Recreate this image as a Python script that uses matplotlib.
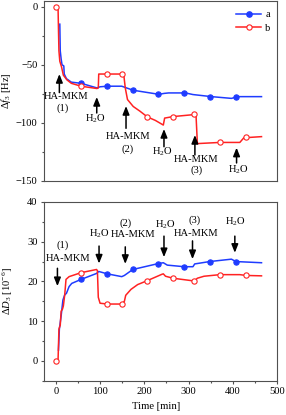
import matplotlib
matplotlib.use("Agg")
import matplotlib.pyplot as plt
from matplotlib.ticker import MultipleLocator
from matplotlib.lines import Line2D

plt.rcParams['font.family'] = ['Liberation Serif', 'DejaVu Serif']
plt.rcParams['mathtext.fontset'] = 'custom'
plt.rcParams['mathtext.rm'] = 'Liberation Serif'
plt.rcParams['mathtext.it'] = 'Liberation Serif:italic'
plt.rcParams['mathtext.bf'] = 'Liberation Serif:bold'

# ---------------- data: frequency shift (top) ----------------
f_a_t = [9, 10, 12, 14, 18, 19, 24, 35, 57, 93, 100, 116.5, 149, 160, 175, 233, 245, 255, 293, 310, 352, 397, 412, 465]
f_a_v = [-15, -38, -45, -50, -51, -58, -62, -65, -66, -70, -69, -68.5, -68.5, -70, -72, -75.5, -74.7, -74.3, -74.3, -75.7, -77.5, -79, -77.5, -77.5]
f_a_mt = [57, 116.5, 174, 232, 290, 348, 407]
f_a_mv = [-66, -68.5, -72, -75.5, -74.3, -77.6, -77.6]

f_b_t = [0, 5, 6, 7, 9, 13, 17, 25, 35, 57, 93, 96, 97, 116.5, 149, 154, 157, 162, 175, 190, 207, 225, 243, 246, 265, 312, 317, 320, 371, 416, 425, 465]
f_b_v = [0, 0, -20, -38, -47, -52, -59, -63, -66, -68.5, -70.5, -70, -58, -58, -58, -60, -70, -80, -86, -90, -95, -98, -102, -96, -94.7, -93, -94, -118, -117, -117, -113, -112]
f_b_mt = [0, 57, 116.5, 149, 207, 265.5, 313, 371, 429]
f_b_mv = [0, -68.5, -58, -58, -95, -94.7, -92.8, -116.9, -112.6]

# ---------------- data: dissipation shift (bottom) ----------------
d_a_t = [6, 8, 12, 16, 20, 24, 30, 36, 57, 92, 97, 116.5, 149, 155, 174, 232, 243, 252, 290, 310, 314, 348, 397, 407, 465]
d_a_v = [2.7, 8, 11.3, 15.3, 16.6, 17, 18.7, 19.5, 20.5, 22, 22.5, 21.9, 21.2, 21.5, 23, 24.5, 24.7, 24.1, 23.7, 23.7, 24.4, 25, 25.6, 25, 24.7]
d_a_mt = [57, 116.5, 174, 232, 290, 348, 407]
d_a_mv = [20.5, 21.9, 23, 24.5, 23.7, 25, 25]

d_b_t = [0, 5, 7, 10, 12, 15, 17, 20, 23, 30, 57, 92, 94, 96, 100, 116.5, 149, 155, 158, 170, 185, 207, 240, 243, 248, 265, 313, 320, 335, 371, 416, 430, 465]
d_b_v = [0, 0, 8, 9, 12.5, 13, 13.8, 16.5, 20.5, 21.2, 22.2, 23, 22.7, 16, 14.5, 14.3, 14.3, 15, 16.5, 18, 19.2, 20.2, 21.8, 21.9, 21.3, 20.8, 20.1, 20.8, 21.3, 21.7, 21.7, 21.5, 21.4]
d_b_mt = [0, 57, 116.5, 149, 207, 265.5, 313, 371, 429]
d_b_mv = [0, 22.2, 14.3, 14.3, 20.2, 20.8, 20.1, 21.7, 21.5]

series_labels = ['a', 'b']

# annotations: (arrow x, arrow tail y, arrow head y, [(text, x, y), ...])
top_notes = [
    (8, -74, -58, [('HA-MKM', 23, -77), ('(1)', 15, -87.6)]),
    (92.5, -91.6, -77.8, [('H$_2$O', 89, -96.2)]),
    (158.7, -104.8, -85.6, [('HA-MKM', 164, -111.5), ('(2)', 161.6, -122.7)]),
    (244.5, -120.7, -105.4, [('H$_2$O', 241.5, -125)]),
    (314.4, -127.8, -110.6, [('HA-MKM', 316.7, -131.5), ('(3)', 318, -140.8)]),
    (408.6, -134.7, -121.5, [('H$_2$O', 412, -140.8)]),
]
bot_notes = [
    (3.6, 23.3, 18.8, [('HA-MKM', 28.5, 25.8), ('(1)', 15.8, 29.2)]),
    (97.7, 28.9, 24.5, [('H$_2$O', 97.7, 32.1)]),
    (157, 28.7, 24.4, [('HA-MKM', 173.8, 31.9), ('(2)', 158.7, 34.6)]),
    (244.5, 31.4, 26.1, [('H$_2$O', 246.7, 34.2)]),
    (309, 30.2, 25.6, [('HA-MKM', 318, 32.1), ('(3)', 312.9, 35.3)]),
    (404.7, 31.4, 27.2, [('H$_2$O', 407, 35)]),
]

BLUE = '#1f3cff'
RED = '#ff2222'
SPINE = '#505050'
FS = 7.6

fig = plt.figure(figsize=(2.86, 4.15), dpi=100)
ax1 = fig.add_axes([0.155, 0.5646, 0.8135, 0.433])
ax2 = fig.add_axes([0.155, 0.0827, 0.8135, 0.4306])

def style(ax):
    for s in ax.spines.values():
        s.set_color(SPINE)
        s.set_linewidth(0.8)
    ax.tick_params(which='both', direction='out', colors=SPINE, labelcolor='black',
                   labelsize=FS, width=0.8)
    ax.tick_params(which='major', length=2.3, pad=2.5)
    ax.tick_params(which='minor', length=1.3)

def draw(ax, lt, lv, mt, mv, color, filled, z):
    ax.plot(lt, lv, '-', color=color, lw=1.1, zorder=z)
    ax.plot(mt, mv, 'o', ms=3.8, mew=0.8, mec=color,
            mfc=color if filled else 'white', zorder=z + 0.5)

# top
draw(ax1, f_a_t, f_a_v, f_a_mt, f_a_mv, BLUE, True, 2)
draw(ax1, f_b_t, f_b_v, f_b_mt, f_b_mv, RED, False, 3)
ax1.set_xlim(-26, 500)
ax1.set_ylim(-150, 5)
ax1.set_yticks([0, -50, -100, -150])
ax1.yaxis.set_minor_locator(MultipleLocator(25))
ax1.set_xticks([])
style(ax1)
ax1.set_ylabel(r'$\mathit{Δf}_{3}$ [Hz]', fontsize=FS)
ax1.yaxis.set_label_coords(-0.135, 0.5)

for x, y0, y1, texts in top_notes:
    ax1.annotate('', xy=(x, y1), xytext=(x, y0),
                 arrowprops=dict(arrowstyle='-|>,head_length=0.5,head_width=0.2',
                                 color='black', lw=1.1, shrinkA=0, shrinkB=0))
    for s, tx, ty in texts:
        ax1.text(tx, ty, s, ha='center', va='center', fontsize=FS)

handles = [Line2D([], [], color=BLUE, lw=1.1, marker='o', ms=3.8, mfc=BLUE, mec=BLUE),
           Line2D([], [], color=RED, lw=1.1, marker='o', ms=3.8, mfc='white', mec=RED, mew=0.8)]
ax1.legend(handles, series_labels, loc='upper right', bbox_to_anchor=(1.0, 0.985),
           frameon=False, fontsize=FS, handlelength=2.4, handletextpad=0.4,
           labelspacing=0.4, borderaxespad=0.3, borderpad=0.3)

# bottom
draw(ax2, d_a_t, d_a_v, d_a_mt, d_a_mv, BLUE, True, 2)
draw(ax2, d_b_t, d_b_v, d_b_mt, d_b_mv, RED, False, 3)
ax2.set_xlim(-26, 500)
ax2.set_ylim(-5, 40)
ax2.set_xticks([0, 100, 200, 300, 400, 500])
ax2.xaxis.set_minor_locator(MultipleLocator(50))
ax2.set_yticks([0, 10, 20, 30, 40])
ax2.yaxis.set_minor_locator(MultipleLocator(5))
style(ax2)
ax2.set_ylabel(r'$\mathit{ΔD}_{3}$ [10$^{-6}$]', fontsize=FS)
ax2.yaxis.set_label_coords(-0.125, 0.5)
ax2.set_xlabel('Time [min]', fontsize=FS)
ax2.xaxis.set_label_coords(0.48, -0.12)

for x, y0, y1, texts in bot_notes:
    ax2.annotate('', xy=(x, y1), xytext=(x, y0),
                 arrowprops=dict(arrowstyle='-|>,head_length=0.5,head_width=0.2',
                                 color='black', lw=1.1, shrinkA=0, shrinkB=0))
    for s, tx, ty in texts:
        ax2.text(tx, ty, s, ha='center', va='center', fontsize=FS)

fig.savefig('out.png', dpi=100)
